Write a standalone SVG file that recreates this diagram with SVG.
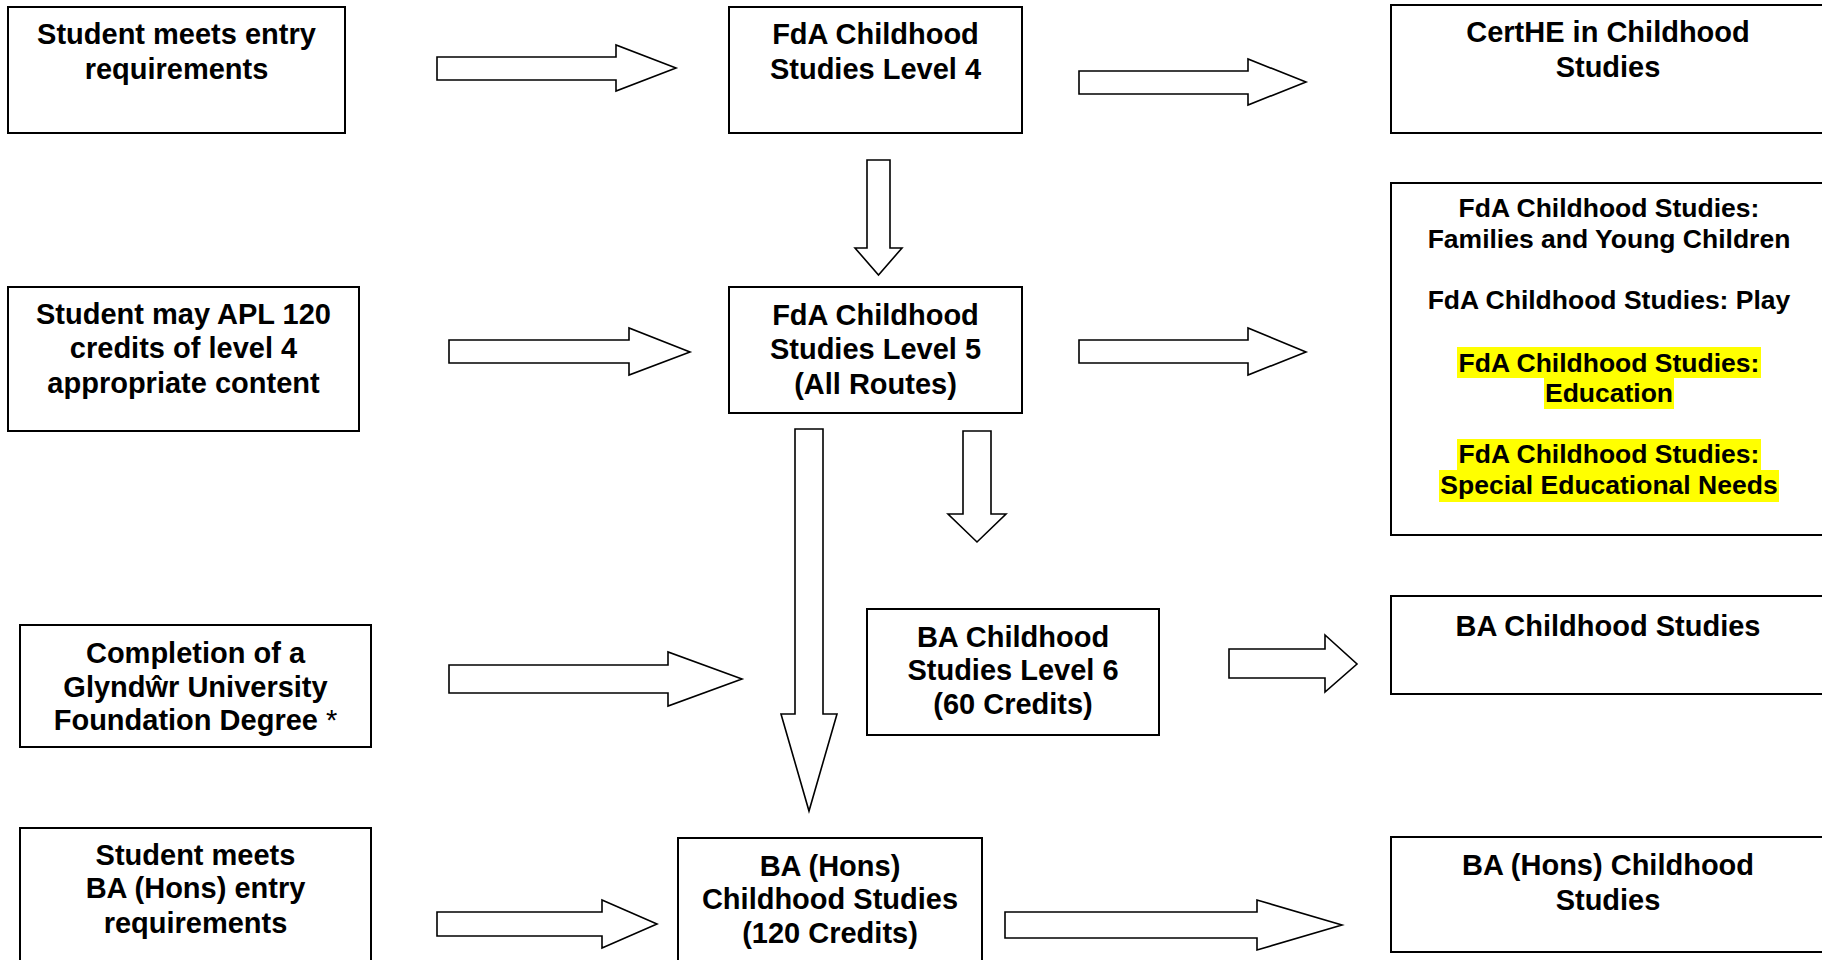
<svg xmlns="http://www.w3.org/2000/svg" width="1822" height="960" viewBox="0 0 1822 960">
<style>
.box{fill:#fff;stroke:#000;stroke-width:2}
.arr{fill:#fff;stroke:#000;stroke-width:1.6;stroke-linejoin:miter}
.t{font-family:"Liberation Sans",Arial,sans-serif;font-weight:bold;font-size:29px;fill:#000;text-anchor:middle}
.s{font-size:26.5px}
.hl{fill:#ffff00}
</style>
<rect x="0" y="0" width="1822" height="960" fill="#fff"/>
<g id="connectors">
<polygon class="arr" points="437,57 616,57 616,45 676,68 616,91 616,80 437,80"/>
<polygon class="arr" points="1079,71 1248,71 1248,59 1306,82 1248,105 1248,94 1079,94"/>
<polygon class="arr" points="867,160 890,160 890,248 902,248 878.5,275 855,248 867,248"/>
<polygon class="arr" points="449,340 629,340 629,328 690,352 629,375 629,363 449,363"/>
<polygon class="arr" points="1079,340 1248,340 1248,328 1306,352 1248,375 1248,363 1079,363"/>
<polygon class="arr" points="795,429 823,429 823,714 837,714 809,811 781,714 795,714"/>
<polygon class="arr" points="963,431 991,431 991,514 1006,514 977,542 948,514 963,514"/>
<polygon class="arr" points="449,665 668,665 668,652 742,679 668,706 668,693 449,693"/>
<polygon class="arr" points="1229,649 1325,649 1325,635 1357,664 1325,692 1325,678 1229,678"/>
<polygon class="arr" points="437,912 602,912 602,900 657,924 602,948 602,936 437,936"/>
<polygon class="arr" points="1005,912 1257,912 1257,900 1342,925 1257,950 1257,938 1005,938"/>
</g>
<g id="entry">
<rect class="box" x="8" y="7" width="337" height="126"/>
<text class="t" x="176.5" y="44">Student meets entry</text>
<text class="t" x="176.5" y="79">requirements</text>
</g>
<g id="level4">
<rect class="box" x="729" y="7" width="293" height="126"/>
<text class="t" x="875.5" y="44">FdA Childhood</text>
<text class="t" x="875.5" y="79">Studies Level 4</text>
</g>
<g id="certhe">
<rect class="box" x="1391" y="5" width="436" height="128"/>
<text class="t" x="1608" y="42">CertHE in Childhood</text>
<text class="t" x="1608" y="77">Studies</text>
</g>
<g id="apl">
<rect class="box" x="8" y="287" width="351" height="144"/>
<text class="t" x="183.5" y="324">Student may APL 120</text>
<text class="t" x="183.5" y="358">credits of level 4</text>
<text class="t" x="183.5" y="393">appropriate content</text>
</g>
<g id="level5">
<rect class="box" x="729" y="287" width="293" height="126"/>
<text class="t" x="875.5" y="325">FdA Childhood</text>
<text class="t" x="875.5" y="359">Studies Level 5</text>
<text class="t" x="875.5" y="394">(All Routes)</text>
</g>
<g id="fda-awards">
<rect class="box" x="1391" y="183" width="436" height="352"/>
<rect class="hl" x="1457" y="347" width="304" height="31"/>
<rect class="hl" x="1544" y="378" width="130" height="31"/>
<rect class="hl" x="1457" y="439" width="304" height="31"/>
<rect class="hl" x="1439" y="470" width="340" height="32"/>
<text class="t s" x="1609" y="217">FdA Childhood Studies:</text>
<text class="t s" x="1609" y="248">Families and Young Children</text>
<text class="t s" x="1609" y="309">FdA Childhood Studies: Play</text>
<text class="t s" x="1609" y="372">FdA Childhood Studies:</text>
<text class="t s" x="1609" y="402">Education</text>
<text class="t s" x="1609" y="463">FdA Childhood Studies:</text>
<text class="t s" x="1609" y="494">Special Educational Needs</text>
</g>
<g id="completion">
<rect class="box" x="20" y="625" width="351" height="122"/>
<text class="t" x="195.5" y="663">Completion of a</text>
<text class="t" x="195.5" y="697">Glyndŵr University</text>
<text class="t" x="195.5" y="730">Foundation Degree <tspan font-weight="normal">*</tspan></text>
</g>
<g id="level6">
<rect class="box" x="867" y="609" width="292" height="126"/>
<text class="t" x="1013" y="647">BA Childhood</text>
<text class="t" x="1013" y="680">Studies Level 6</text>
<text class="t" x="1013" y="714">(60 Credits)</text>
</g>
<g id="ba">
<rect class="box" x="1391" y="596" width="436" height="98"/>
<text class="t" x="1608" y="636">BA Childhood Studies</text>
</g>
<g id="hons-entry">
<rect class="box" x="20" y="828" width="351" height="140"/>
<text class="t" x="195.5" y="865">Student meets</text>
<text class="t" x="195.5" y="898">BA (Hons) entry</text>
<text class="t" x="195.5" y="933">requirements</text>
</g>
<g id="hons">
<rect class="box" x="678" y="838" width="304" height="130"/>
<text class="t" x="830" y="876">BA (Hons)</text>
<text class="t" x="830" y="909">Childhood Studies</text>
<text class="t" x="830" y="943">(120 Credits)</text>
</g>
<g id="hons-award">
<rect class="box" x="1391" y="837" width="436" height="115"/>
<text class="t" x="1608" y="875">BA (Hons) Childhood</text>
<text class="t" x="1608" y="910">Studies</text>
</g>
</svg>
